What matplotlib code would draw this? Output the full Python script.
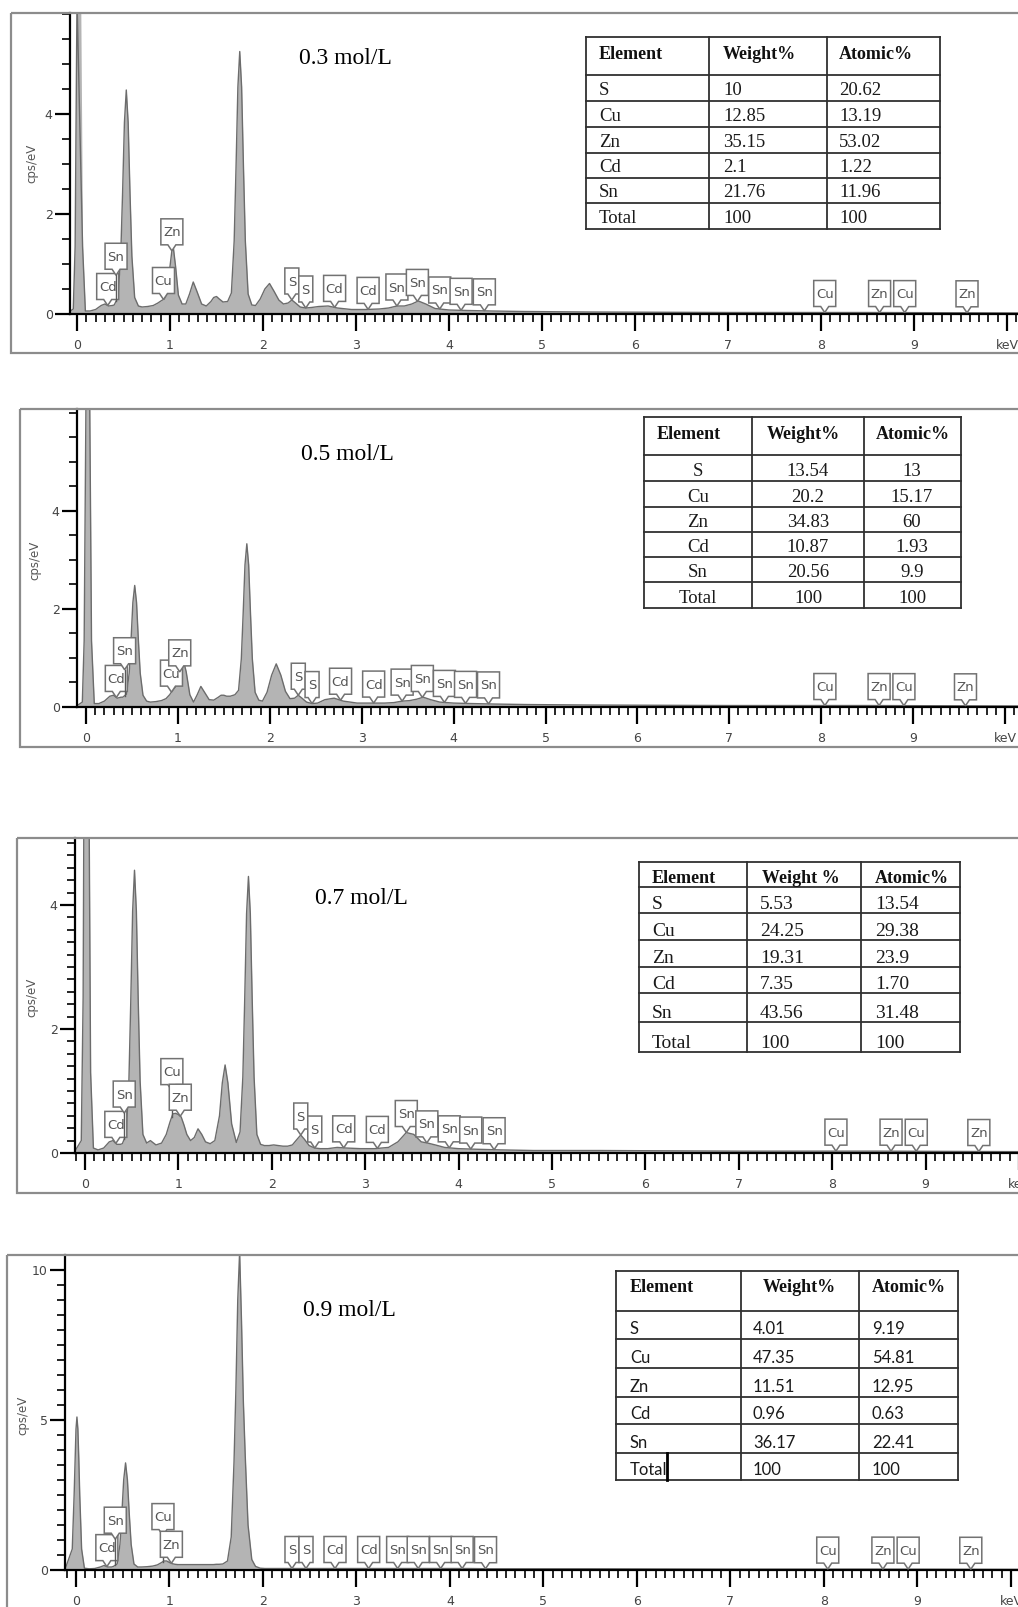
import numpy as np
import matplotlib
matplotlib.use("Agg")
import matplotlib.pyplot as plt
import matplotlib.transforms as mtransforms
from matplotlib.patches import Polygon, Rectangle
from matplotlib.ticker import MultipleLocator, FixedLocator

W, H = 1018, 1607

# energy grid (keV) shared by the four EDS spectra
energy = [-0.12, -0.04, -0.02, 0.00, 0.01, 0.02, 0.03, 0.04, 0.06, 0.09,
          0.14, 0.20, 0.26, 0.30, 0.34, 0.38,
          0.40, 0.44, 0.47, 0.49, 0.51, 0.53, 0.55, 0.57, 0.59, 0.62, 0.66,
          0.70, 0.76, 0.82, 0.87, 0.91, 0.94, 0.97, 1.00, 1.03, 1.06, 1.09, 1.13,
          1.17, 1.21, 1.25, 1.29, 1.34, 1.39, 1.44, 1.47, 1.50, 1.53, 1.57, 1.62,
          1.66, 1.69, 1.71, 1.73, 1.75, 1.77, 1.79, 1.81, 1.84, 1.88,
          1.92, 1.97, 2.02, 2.07, 2.12, 2.17, 2.22, 2.27, 2.31, 2.35, 2.40, 2.46, 2.52,
          2.60, 2.70, 2.80, 2.95, 3.10, 3.25, 3.35, 3.44, 3.52, 3.60, 3.67, 3.75,
          3.85, 4.00, 4.20, 4.45, 4.80,
          5.50, 7.00, 8.50, 10.30]

cps_03 = [0.0, 0.1, 1.35, 6.3, 9.3, 10.6, 9.3, 6.3, 1.35, 0.06,
          0.06, 0.09, 0.17, 0.20, 0.16, 0.17,
          0.18, 0.33, 1.16, 2.41, 3.83, 4.48, 3.83, 2.41, 1.16, 0.33, 0.16,
          0.14, 0.15, 0.17, 0.22, 0.27, 0.30, 0.42, 0.95, 1.42, 0.95, 0.38, 0.20,
          0.20, 0.40, 0.64, 0.45, 0.20, 0.16, 0.25, 0.33, 0.35, 0.30, 0.24, 0.25,
          0.42, 1.46, 2.93, 4.54, 5.25, 4.54, 2.93, 1.46, 0.40, 0.18,
          0.17, 0.30, 0.50, 0.61, 0.45, 0.28, 0.20, 0.22, 0.28, 0.22, 0.14, 0.12, 0.13,
          0.15, 0.16, 0.12, 0.09, 0.09, 0.10, 0.12, 0.16, 0.16, 0.20, 0.26, 0.20,
          0.11, 0.08, 0.07, 0.06, 0.05,
          0.04, 0.03, 0.03, 0.02]

cps_05 = [0.0, 0.1, 1.35, 6.3, 9.3, 10.6, 9.3, 6.3, 1.35, 0.07,
          0.07, 0.12, 0.22, 0.24, 0.18, 0.20,
          0.20, 0.26, 0.69, 1.36, 2.13, 2.48, 2.13, 1.36, 0.69, 0.24, 0.12,
          0.10, 0.11, 0.13, 0.17, 0.25, 0.33, 0.40, 0.55, 0.80, 0.95, 0.72, 0.25,
          0.10, 0.25, 0.42, 0.30, 0.15, 0.14, 0.20, 0.24, 0.24, 0.22, 0.22, 0.25,
          0.34, 0.98, 1.90, 2.90, 3.33, 2.90, 1.90, 0.98, 0.30, 0.14,
          0.12, 0.30, 0.65, 0.88, 0.65, 0.32, 0.17, 0.18, 0.24, 0.18, 0.10, 0.07, 0.08,
          0.15, 0.18, 0.12, 0.08, 0.08, 0.08, 0.09, 0.12, 0.13, 0.16, 0.20, 0.15,
          0.10, 0.08, 0.07, 0.06, 0.05,
          0.04, 0.03, 0.03, 0.02]

cps_07 = [0.0, 0.2, 2.5, 10.0, 13.5, 13.5, 10.5, 6.5, 1.3, 0.08,
          0.05, 0.08, 0.18, 0.20, 0.14, 0.14,
          0.15, 0.30, 1.16, 2.44, 3.90, 4.56, 3.90, 2.44, 1.16, 0.30, 0.16,
          0.20, 0.13, 0.16, 0.30, 0.50, 0.63, 0.64, 0.62, 0.58, 0.45, 0.30, 0.20,
          0.25, 0.39, 0.30, 0.18, 0.15, 0.20, 0.60, 1.13, 1.42, 1.13, 0.47, 0.17,
          0.34, 1.23, 2.48, 3.86, 4.46, 3.86, 2.48, 1.23, 0.30, 0.14,
          0.12, 0.12, 0.13, 0.12, 0.11, 0.11, 0.13, 0.22, 0.29, 0.22, 0.12, 0.08, 0.07,
          0.07, 0.09, 0.08, 0.07, 0.07, 0.09, 0.18, 0.33, 0.30, 0.18, 0.16, 0.13,
          0.09, 0.07, 0.06, 0.05, 0.04,
          0.04, 0.03, 0.03, 0.02]

cps_09 = [0.0, 0.7, 2.5, 4.7, 5.1, 4.7, 3.7, 2.5, 0.7, 0.06,
          0.04, 0.05, 0.10, 0.15, 0.10, 0.10,
          0.12, 0.20, 0.85, 1.85, 3.00, 3.57, 3.00, 1.85, 0.85, 0.20, 0.10,
          0.10, 0.11, 0.13, 0.17, 0.24, 0.30, 0.30, 0.25, 0.21, 0.19, 0.18, 0.18,
          0.18, 0.18, 0.18, 0.18, 0.18, 0.18, 0.18, 0.18, 0.19, 0.19, 0.20, 0.30,
          1.10, 3.60, 6.00, 9.00, 10.6, 8.30, 5.60, 3.80, 1.50, 0.35,
          0.12, 0.06, 0.05, 0.05, 0.05, 0.05, 0.05, 0.05, 0.05, 0.05, 0.05, 0.05, 0.05,
          0.05, 0.05, 0.05, 0.05, 0.05, 0.05, 0.05, 0.05, 0.05, 0.05, 0.05, 0.05,
          0.05, 0.05, 0.05, 0.04, 0.04,
          0.04, 0.03, 0.03, 0.02]

# X-ray line markers
line_names = ["Cd", "Sn", "Cu", "Zn", "S", "S", "Cd", "Cd", "Sn", "Sn", "Sn",
              "Sn", "Sn", "Cu", "Zn", "Cu", "Zn"]
line_kev = [0.33, 0.42, 0.93, 1.02, 2.31, 2.46, 2.77, 3.13, 3.44, 3.66, 3.90,
            4.13, 4.38, 8.04, 8.63, 8.90, 9.57]

# composition tables
elements = ["S", "Cu", "Zn", "Cd", "Sn", "Total"]
wt_03 = ["10", "12.85", "35.15", "2.1", "21.76", "100"]
at_03 = ["20.62", "13.19", "53.02", "1.22", "11.96", "100"]
wt_05 = ["13.54", "20.2", "34.83", "10.87", "20.56", "100"]
at_05 = ["13", "15.17", "60", "1.93", "9.9", "100"]
wt_07 = ["5.53", "24.25", "19.31", "7.35", "43.56", "100"]
at_07 = ["13.54", "29.38", "23.9", "1.70", "31.48", "100"]
wt_09 = ["4.01", "47.35", "11.51", "0.96", "36.17", "100"]
at_09 = ["9.19", "54.81", "12.95", "0.63", "22.41", "100"]

for c in (cps_03, cps_05, cps_07, cps_09):
    assert len(c) == len(energy)

panels = [
    dict(cps=cps_03, conc="0.3 mol/L", conc_xy=(345, 59), frame=(11, 13, 1040, 353),
         box=(70, 13, 1030, 314), x0=77, kx=93.0, ytop=6.02, yticks=[0, 2, 4], ymin=0.5,
         ylab=(32, 163), lifted={1},
         table=dict(cols=[586, 709, 827, 940], rows=[37, 75, 101, 127, 153, 178, 203, 229],
                    head=["Element", "Weight%", "Atomic%"], head_x=[599, 723, 839],
                    head_ha="left", head_base=59, body_x=[599, 723, 839], body_ha="left",
                    base_off=6, wt=wt_03, at=at_03, body_font="Liberation Serif", body_size=13.5)),
    dict(cps=cps_05, conc="0.5 mol/L", conc_xy=(347, 454), frame=(20, 409, 1040, 747),
         box=(77, 409, 1030, 707), x0=86, kx=91.9, ytop=6.08, yticks=[0, 2, 4], ymin=0.5,
         ylab=(35, 560), lifted={1},
         table=dict(cols=[644, 752, 864, 961], rows=[417, 455, 481, 507, 532, 557, 582, 608],
                    head=["Element", "Weight%", "Atomic%"], head_x=[689, 803, 913],
                    head_ha="center", head_base=439, body_x=[698, 808, 912], body_ha="center",
                    base_off=5, wt=wt_05, at=at_05, body_font="Liberation Serif", body_size=13.5)),
    dict(cps=cps_07, conc="0.7 mol/L", conc_xy=(361, 898), frame=(17, 838, 1040, 1193),
         box=(75, 838, 1030, 1153), x0=85, kx=93.4, ytop=5.08, yticks=[0, 2, 4], ymin=0.2,
         ylab=(32, 997), lifted={1, 2},
         table=dict(cols=[639, 747, 861, 960], rows=[862, 887, 913, 940, 967, 993, 1022, 1052],
                    head=["Element", "Weight %", "Atomic%"], head_x=[652, 762, 875],
                    head_ha="left", head_base=883, body_x=[652, 760, 875], body_ha="left",
                    base_off=4, wt=wt_07, at=at_07, body_font="Liberation Serif", body_size=14)),
    dict(cps=cps_09, conc="0.9 mol/L", conc_xy=(349, 1310), frame=(7, 1255, 1040, 1640),
         box=(65, 1255, 1030, 1570), x0=76, kx=93.5, ytop=10.5, yticks=[0, 5, 10], ymin=0.5,
         ylab=(23, 1415), lifted={1, 2},
         table=dict(cols=[616, 741, 859, 958], rows=[1271, 1311, 1339, 1368, 1397, 1424, 1453, 1480],
                    head=["Element", "Weight%", "Atomic%"], head_x=[630, 799, 872],
                    head_ha=["left", "center", "left"], head_base=1292, body_x=[630, 753, 872],
                    body_ha="left", base_off=5, wt=wt_09, at=at_09, body_font="Lato",
                    body_size=12, cursor=(667, 1453, 1480))),
]


def tag(ax, name, x, y, lift=0):
    """Element marker: a small box with a notch pointing at the spectrum."""
    w = 14 if len(name) == 1 else 22
    h, d = 26, 6
    base = d + lift * h
    verts = [(-w / 2, base), (-4, base), (0, base - d), (4, base), (w / 2, base),
             (w / 2, base + h), (-w / 2, base + h)]
    tr = mtransforms.Affine2D() + mtransforms.ScaledTranslation(x, y, ax.transData)
    ax.add_patch(Polygon(verts, closed=True, transform=tr, fc="white", ec="#727272",
                         lw=1.1, zorder=5, clip_on=False))
    if lift:
        ax.plot([0, 0], [0, base - d], transform=tr, color="#5a5a5a", lw=1.0,
                zorder=5, clip_on=False)
    ax.text(0, base + h / 2 - 1, name, transform=tr, ha="center", va="center",
            fontsize=9.5, color="#555555", zorder=6, clip_on=False)


fig = plt.figure(figsize=(W / 100, H / 100), dpi=100)

for p in panels:
    l, t, r, b = p["box"]
    ax = fig.add_axes([l / W, 1 - b / H, (r - l) / W, (b - t) / H])
    ax.set_xlim((l - p["x0"]) / p["kx"], (r - p["x0"]) / p["kx"])
    ax.set_ylim(0, p["ytop"])
    ax.fill_between(energy, p["cps"], 0, color="#b4b4b4", lw=0, zorder=1)
    ax.plot(energy, p["cps"], color="#6c6c6c", lw=1.0, zorder=2)

    ax.xaxis.set_major_locator(FixedLocator(range(11)))
    ax.set_xticklabels([str(i) for i in range(10)] + ["keV"])
    ax.xaxis.set_minor_locator(MultipleLocator(0.1))
    ax.yaxis.set_major_locator(FixedLocator(p["yticks"]))
    ax.yaxis.set_minor_locator(MultipleLocator(p["ymin"]))
    ax.tick_params(axis="x", which="major", length=12, width=1.6, pad=6,
                   labelsize=9, labelcolor="#444444")
    ax.tick_params(axis="x", which="minor", length=6, width=1.2)
    ax.tick_params(axis="y", which="major", length=11, width=1.6, pad=1.5,
                   labelsize=9, labelcolor="#444444")
    ax.tick_params(axis="y", which="minor", length=6, width=1.2)
    for s in ("top", "right"):
        ax.spines[s].set_visible(False)
    for s in ("left", "bottom"):
        ax.spines[s].set_linewidth(1.6)
        ax.spines[s].set_zorder(3)

    for k, (name, kev) in enumerate(zip(line_names, line_kev)):
        lift = 1 if k in p["lifted"] else 0
        tag(ax, name, kev, float(np.interp(kev, energy, p["cps"])), lift)

# overlay in pixel coordinates for frames, tables and captions
ov = fig.add_axes([0, 0, 1, 1], zorder=10)
ov.set_xlim(0, W)
ov.set_ylim(H, 0)
ov.axis("off")
ov.patch.set_visible(False)

for p in panels:
    fl, ft, fr, fb = p["frame"]
    ov.add_patch(Rectangle((fl, ft), fr - fl, fb - ft, fill=False, ec="#8c8c8c", lw=1.6))
    ov.text(p["conc_xy"][0], p["conc_xy"][1], p["conc"], ha="center", va="center",
            fontsize=17, family="Liberation Serif", color="black")
    ov.text(p["ylab"][0], p["ylab"][1], "cps/eV", rotation=90, ha="center", va="center",
            fontsize=8.5, color="#555555")

    tb = p["table"]
    cols, rows = tb["cols"], tb["rows"]
    ov.add_patch(Rectangle((cols[0], rows[0]), cols[-1] - cols[0], rows[-1] - rows[0],
                           fc="white", ec="none"))
    for x in cols:
        ov.plot([x, x], [rows[0], rows[-1]], color="#303030", lw=1.3, solid_capstyle="projecting")
    for y in rows:
        ov.plot([cols[0], cols[-1]], [y, y], color="#303030", lw=1.3, solid_capstyle="projecting")

    head_ha = tb["head_ha"] if isinstance(tb["head_ha"], list) else [tb["head_ha"]] * 3
    for txt, x, ha in zip(tb["head"], tb["head_x"], head_ha):
        ov.text(x, tb["head_base"], txt, ha=ha, va="baseline", fontsize=13,
                family="Liberation Serif", weight="bold", color="#111111")

    for i, row in enumerate(zip(elements, tb["wt"], tb["at"])):
        yb = rows[i + 2] - tb["base_off"]
        for txt, x in zip(row, tb["body_x"]):
            ov.text(x, yb, txt, ha=tb["body_ha"], va="baseline", fontsize=tb["body_size"],
                    family=tb["body_font"], color="#1a1a1a")

    if "cursor" in tb:
        cx, cy0, cy1 = tb["cursor"]
        ov.plot([cx, cx], [cy0, cy1], color="black", lw=2.0)

fig.savefig("out.png", dpi=100)
